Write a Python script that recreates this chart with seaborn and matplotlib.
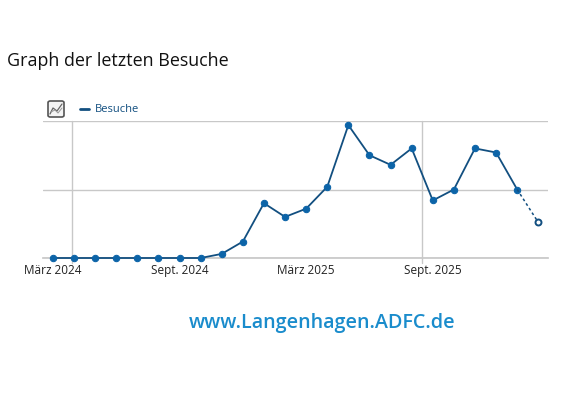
import pandas as pd
import seaborn as sns
import matplotlib.pyplot as plt
from matplotlib.patches import FancyBboxPatch
from matplotlib.lines import Line2D

# --- Daten (monatliche Besuche, relative Werte) ---
monate = ["März 2024", "Apr. 2024", "Mai 2024", "Juni 2024", "Juli 2024", "Aug. 2024",
          "Sept. 2024", "Okt. 2024", "Nov. 2024", "Dez. 2024", "Jan. 2025", "Feb. 2025",
          "März 2025", "Apr. 2025", "Mai 2025", "Juni 2025", "Juli 2025", "Aug. 2025",
          "Sept. 2025", "Okt. 2025", "Nov. 2025", "Dez. 2025", "Jan. 2026", "Feb. 2026"]
besuche = [0, 0, 0, 0, 0, 0, 0, 0, 3, 12, 40, 30, 36, 52, 97, 75, 68, 80, 42, 50, 80, 77, 50, 26]
tick_labels = ["März 2024", "Sept. 2024", "März 2025", "Sept. 2025"]

df = pd.DataFrame({"monat": monate, "besuche": besuche})
df["pos"] = range(len(df))

sns.set_theme(style="white")
plt.rcParams['font.family'] = ['Open Sans', 'DejaVu Sans']

fig = plt.figure(figsize=(5.76, 4.18), dpi=100)
ax = fig.add_axes([43 / 576, 1 - 258 / 418, 505 / 576, 137 / 418])

linie = "#124f80"
punkt = "#0c64a8"

# durchgezogene Linie bis zum letzten vollständigen Monat
fest = df.iloc[:-1]
sns.lineplot(data=fest, x="pos", y="besuche", ax=ax, color=linie, lw=1.3,
             marker="o", markersize=4.6, markerfacecolor=punkt, markeredgecolor=punkt,
             clip_on=False, zorder=3)
# aktueller Monat gestrichelt, offener Punkt
sns.lineplot(data=df.iloc[-2:], x="pos", y="besuche", ax=ax, color=linie, lw=1.1,
             linestyle=(0, (1.8, 1.8)), clip_on=False, zorder=3)
ax.plot(df["pos"].iloc[-1], df["besuche"].iloc[-1], "o", ms=4.3, mfc="white",
        mec=linie, mew=1.4, clip_on=False, zorder=4)

ax.set_xlim(-0.47, 23.46)
ax.set_ylim(0, 100)
ax.set_yticks([0, 50, 100])
ax.set_yticklabels([])
ax.yaxis.grid(True, color="#c8c8c8", lw=1)
ax.set_xticks([df["pos"][df["monat"] == t].iloc[0] for t in tick_labels])
ax.set_xticklabels(tick_labels, fontsize=8.5, color="#222222")
ax.tick_params(axis="both", length=0, pad=4)
ax.set_xlabel("")
ax.set_ylabel("")
for s in ["left", "right", "top"]:
    ax.spines[s].set_visible(False)
ax.spines["bottom"].set_color("#c8c8c8")

# vertikale Hilfslinien
for xv in [0.9, 17.5]:
    ax.plot([xv, xv], [-3.6, 100], color="#c8c8c8", lw=1, clip_on=False, zorder=1)

# Titel
fig.text(7 / 576, 1 - 61 / 418, "Graph der letzten Besuche", fontsize=12.9,
         color="#111111", va="center", ha="left")

# Legende mit Symbol
fig.patches.append(FancyBboxPatch((48 / 576, 1 - 117 / 418), 16 / 576, 16 / 418,
                                  boxstyle="round,pad=0,rounding_size=0.004",
                                  transform=fig.transFigure, fc="#f4f4f4",
                                  ec="#555555", lw=1.2))
fig.lines.append(Line2D([50 / 576, 53 / 576, 57 / 576, 62 / 576],
                        [1 - 114 / 418, 1 - 108 / 418, 1 - 111 / 418, 1 - 104 / 418],
                        transform=fig.transFigure, color="#666666", lw=0.9))
fig.lines.append(Line2D([51 / 576, 55 / 576, 58 / 576, 62 / 576],
                        [1 - 112 / 418, 1 - 110 / 418, 1 - 113 / 418, 1 - 108 / 418],
                        transform=fig.transFigure, color="#999999", lw=0.7))
fig.lines.append(Line2D([80 / 576, 89 / 576], [1 - 109 / 418, 1 - 109 / 418],
                        transform=fig.transFigure, color="#124f80", lw=2))
fig.text(95 / 576, 1 - 109 / 418, "Besuche", fontsize=8, color="#124f80",
         va="center", ha="left")

# Webadresse
fig.text(322 / 576, 1 - 323 / 418, "www.Langenhagen.ADFC.de", fontsize=14.2,
         fontweight="semibold", color="#1a8ccc", va="center", ha="center")

fig.savefig("out.png", dpi=100, facecolor="white")
